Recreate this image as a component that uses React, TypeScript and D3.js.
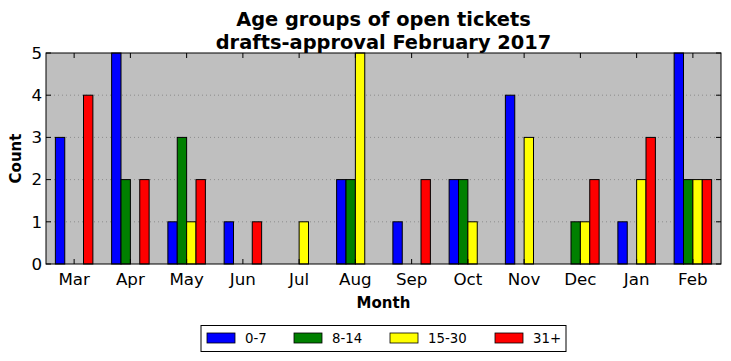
import React, { useEffect, useRef } from 'react';
import * as d3 from 'd3';

const months = ['Mar', 'Apr', 'May', 'Jun', 'Jul', 'Aug', 'Sep', 'Oct', 'Nov', 'Dec', 'Jan', 'Feb'];
const seriesNames = ['0-7', '8-14', '15-30', '31+'];
const seriesColors = ['#0000ff', '#008000', '#ffff00', '#ff0000'];
const age0to7 = [3, 5, 1, 1, 0, 2, 1, 2, 4, 0, 1, 5];
const age8to14 = [0, 2, 3, 0, 0, 2, 0, 2, 0, 1, 0, 2];
const age15to30 = [0, 0, 1, 0, 1, 5, 0, 1, 3, 1, 2, 2];
const age31plus = [4, 2, 2, 1, 0, 0, 2, 0, 0, 2, 3, 2];
const yTicks = [0, 1, 2, 3, 4, 5];

const W = 731;
const H = 361;
const margin = { top: 53, right: 10, bottom: 97, left: 46 };
const FONT = 'DejaVu Sans, sans-serif';

const App = () => {
  const svgRef = useRef<SVGSVGElement>(null);

  useEffect(() => {
    const root = d3.select(svgRef.current);
    root.selectAll('*').remove();

    const innerW = W - margin.left - margin.right;
    const innerH = H - margin.top - margin.bottom;
    const series = [age0to7, age8to14, age15to30, age31plus];

    const x = d3.scaleLinear().domain([-0.5, months.length - 0.5]).range([0, innerW]);
    const y = d3.scaleLinear().domain([0, 5]).range([innerH, 0]);
    const bw = 1 / 6;

    const g = root.append('g').attr('transform', `translate(${margin.left},${margin.top})`);

    g.append('rect').attr('width', innerW).attr('height', innerH).attr('fill', '#bfbfbf');

    // dotted grid
    g.selectAll('.grid')
      .data(yTicks.slice(1, -1))
      .enter()
      .append('line')
      .attr('x1', 0)
      .attr('x2', innerW)
      .attr('y1', d => y(d))
      .attr('y2', d => y(d))
      .attr('stroke', '#808080')
      .attr('stroke-width', 0.8)
      .attr('stroke-dasharray', '1,3');

    // bars
    series.forEach((vals, k) => {
      g.selectAll(`.bar${k}`)
        .data(vals.map((v, i) => ({ v, i })).filter(d => d.v > 0))
        .enter()
        .append('rect')
        .attr('x', d => x(d.i + (k - 2) * bw))
        .attr('y', d => y(d.v))
        .attr('width', x(bw) - x(0))
        .attr('height', d => innerH - y(d.v))
        .attr('fill', seriesColors[k])
        .attr('stroke', '#000')
        .attr('stroke-width', 1);
    });

    // ticks inside, all four sides
    const tl = 5;
    months.forEach((_, i) => {
      g.append('line').attr('x1', x(i)).attr('x2', x(i)).attr('y1', innerH).attr('y2', innerH - tl).attr('stroke', '#000');
      g.append('line').attr('x1', x(i)).attr('x2', x(i)).attr('y1', 0).attr('y2', tl).attr('stroke', '#000');
    });
    yTicks.forEach(t => {
      g.append('line').attr('x1', 0).attr('x2', tl).attr('y1', y(t)).attr('y2', y(t)).attr('stroke', '#000');
      g.append('line').attr('x1', innerW).attr('x2', innerW - tl).attr('y1', y(t)).attr('y2', y(t)).attr('stroke', '#000');
    });

    g.append('rect').attr('width', innerW).attr('height', innerH).attr('fill', 'none').attr('stroke', '#000').attr('stroke-width', 1);

    // tick labels
    g.selectAll('.xl')
      .data(months)
      .enter()
      .append('text')
      .attr('x', (_, i) => x(i))
      .attr('y', innerH + 21)
      .attr('text-anchor', 'middle')
      .attr('font-family', FONT)
      .attr('font-size', 16.7)
      .text(d => d);

    g.selectAll('.yl')
      .data(yTicks)
      .enter()
      .append('text')
      .attr('x', -4)
      .attr('y', d => y(d))
      .attr('dy', '0.35em')
      .attr('text-anchor', 'end')
      .attr('font-family', FONT)
      .attr('font-size', 16.7)
      .text(d => d);

    // axis labels
    root.append('text')
      .attr('x', margin.left + innerW / 2)
      .attr('y', 308)
      .attr('text-anchor', 'middle')
      .attr('font-family', FONT)
      .attr('font-weight', 'bold')
      .attr('font-size', 15)
      .text('Month');

    root.append('text')
      .attr('transform', `translate(21,${margin.top + innerH / 2}) rotate(-90)`)
      .attr('text-anchor', 'middle')
      .attr('font-family', FONT)
      .attr('font-weight', 'bold')
      .attr('font-size', 15)
      .text('Count');

    // title
    const title = root.append('text')
      .attr('text-anchor', 'middle')
      .attr('font-family', FONT)
      .attr('font-weight', 'bold')
      .attr('font-size', 19.4);
    title.append('tspan').attr('x', margin.left + innerW / 2).attr('y', 26).text('Age groups of open tickets');
    title.append('tspan').attr('x', margin.left + innerW / 2).attr('y', 48.5).text('drafts-approval February 2017');

    // legend
    const lg = root.append('g').attr('transform', 'translate(201,325.5)');
    lg.append('rect').attr('width', 365).attr('height', 26).attr('fill', '#fff').attr('stroke', '#000');
    const lx = [6, 93, 189, 294];
    seriesNames.forEach((name, k) => {
      lg.append('rect')
        .attr('x', lx[k])
        .attr('y', 7.5)
        .attr('width', 28)
        .attr('height', 10)
        .attr('fill', seriesColors[k])
        .attr('stroke', '#000')
        .attr('stroke-width', 0.8);
      lg.append('text')
        .attr('x', lx[k] + 38)
        .attr('y', 12.5)
        .attr('dy', '0.35em')
        .attr('font-family', FONT)
        .attr('font-size', 13.3)
        .text(name);
    });
  }, []);

  return <svg ref={svgRef} width={W} height={H} style={{ display: 'block', position: 'absolute', left: 0, top: 0 }} />;
};

export default App;
